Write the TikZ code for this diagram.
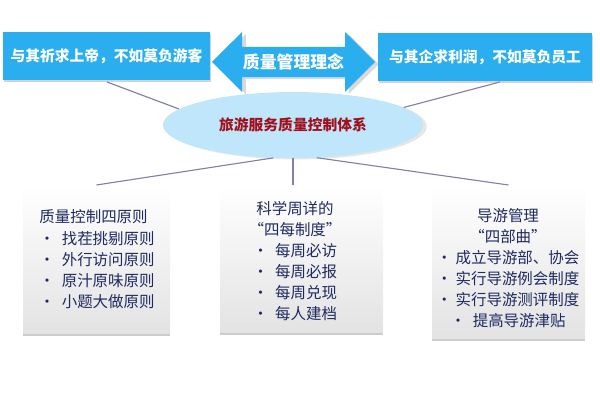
\documentclass[tikz,border=0pt]{standalone}
\usepackage{fontspec}
\setmainfont{Noto Sans CJK SC}
\usetikzlibrary{shapes.arrows,shapes.geometric,shadows}
\definecolor{topblue}{HTML}{2AAEEF}
\definecolor{ellfill}{HTML}{BFE6FA}
\definecolor{navy}{HTML}{1F2A60}
\definecolor{dred}{HTML}{A0101C}
\definecolor{linec}{HTML}{8080A8}
\tikzset{
  topbox/.style={fill=topblue,text=white,draw=none,minimum height=48*0.025cm,inner sep=1pt,font=\fontsize{10.5}{12}\selectfont\bfseries,drop shadow={opacity=0.35,shadow xshift=0.5pt,shadow yshift=-1.5pt}},
  botbox/.style={top color=white,bottom color=gray!22,draw=none,anchor=north,font=\fontsize{11}{15}\selectfont,text=navy,align=center,drop shadow={opacity=0.4,shadow xshift=0pt,shadow yshift=-2pt}},
  conn/.style={draw=linec,line width=0.8pt}
}
\begin{document}
\begin{tikzpicture}[x=0.025cm,y=-0.025cm]
\useasboundingbox (0,0) rectangle (600,400);
\node[topbox,minimum width=207*0.025cm] (L) at (106.5,56) {与其祈求上帝，不如莫负游客};
\node[topbox,minimum width=214*0.025cm] (R) at (485,57) {与其企求利润，不如莫负员工};
\node[double arrow,fill=topblue,minimum width=60*0.025cm,double arrow head extend=6pt,minimum height=163*0.025cm,inner sep=0pt,text=white,font=\fontsize{12}{13}\selectfont\bfseries,drop shadow={opacity=0.3,shadow yshift=-1.5pt}] (A) at (293.5,62) {质量管理理念};
\node[ellipse,fill=ellfill,minimum width=260*0.025cm,minimum height=66*0.025cm,text=dred,font=\fontsize{10.5}{12}\selectfont\bfseries,drop shadow={opacity=0.2,shadow yshift=-1pt}] (E) at (293,125) {旅游服务质量控制体系};
\node[botbox,minimum width=147*0.025cm,minimum height=148*0.025cm] (B1) at (96.5,185) {};
\node[botbox,minimum width=163*0.025cm,minimum height=147*0.025cm] (B2) at (301.5,185) {};
\node[botbox,minimum width=153*0.025cm,minimum height=153*0.025cm] (B3) at (508.5,185) {};
\node[font=\fontsize{11}{15}\selectfont,text=navy,align=left,anchor=north] (T1) at (97,205) {质量控制四原则\\ ·~~找茬挑剔原则\\ ·~~外行访问原则\\ ·~~原汁原味原则\\ ·~~小题大做原则};
\node[font=\fontsize{11}{15}\selectfont,text=navy,align=center,anchor=north] (T2) at (295,196) {科学周详的\\“四每制度”\\ ·~~每周必访\\ ·~~每周必报\\ ·~~每周兑现\\ ·~~每人建档};
\node[font=\fontsize{11}{15}\selectfont,text=navy,align=center,anchor=north] (T3) at (508,203) {导游管理\\“四部曲”\\ ·~成立导游部、协会\\ ·~实行导游例会制度\\ ·~实行导游测评制度\\ ·~~提高导游津贴};
\coordinate (l1) at (107,82); \coordinate (r1) at (500,82);
\draw[conn] (l1) -- (E.172);
\draw[conn] (r1) -- (E.9);
\draw[conn] (E.239) -- (B1.north);
\draw[conn] (E.south) -- (B2.north -| E.south);
\draw[conn] (E.306) -- (B3.north);
\end{tikzpicture}
\end{document}
